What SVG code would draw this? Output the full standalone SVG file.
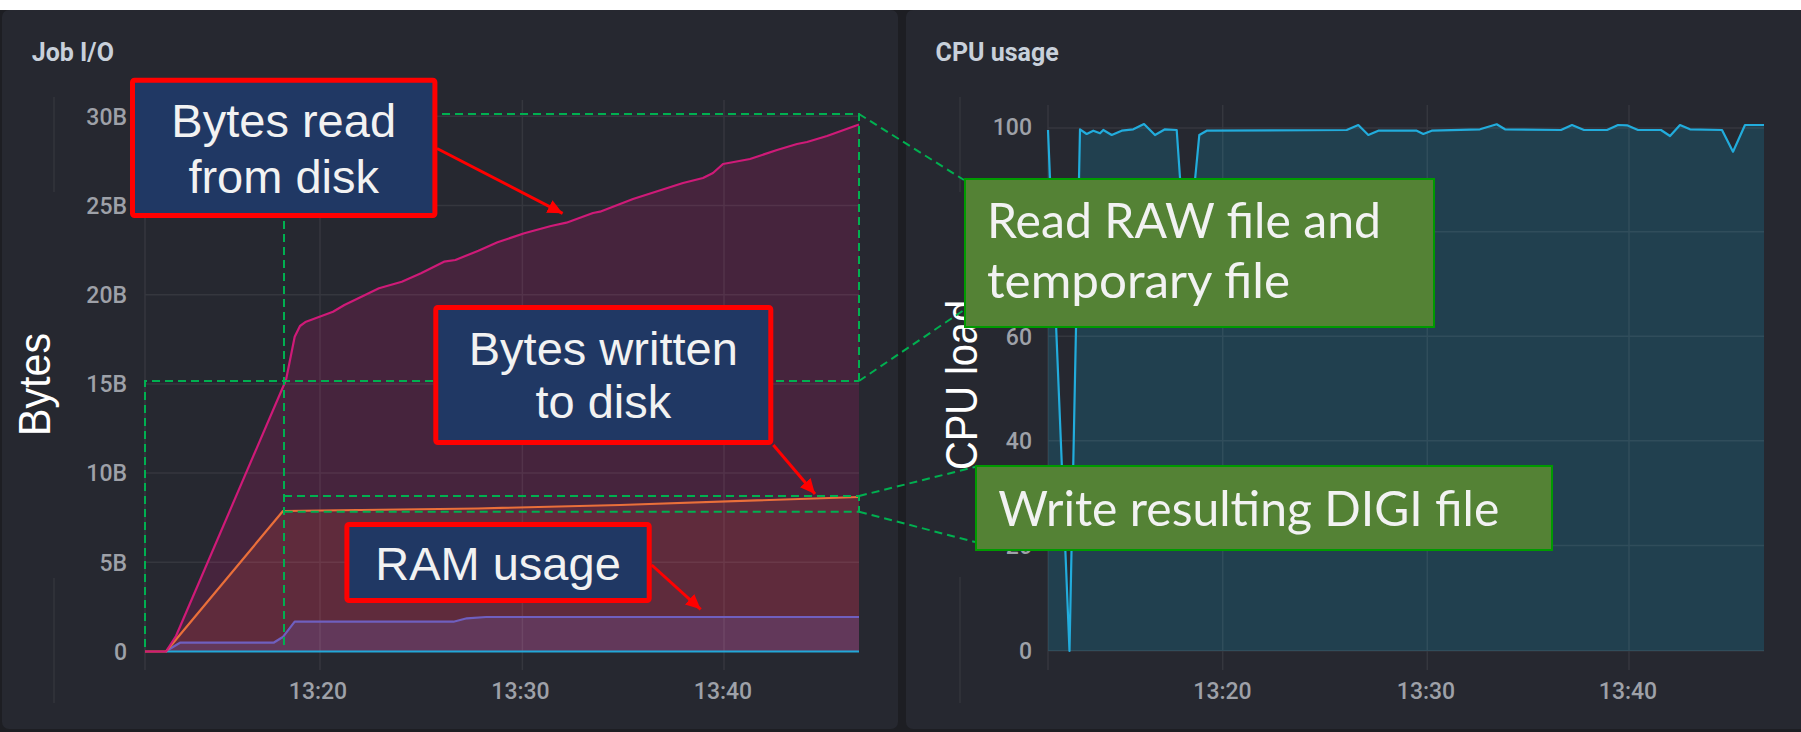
<svg xmlns="http://www.w3.org/2000/svg" width="1801" height="732" viewBox="0 0 1801 732">
  <defs>
    <style>
      .panel{fill:#262830}
      .title{font-family:Roboto,"Liberation Sans",sans-serif;font-weight:700;font-size:25px;fill:#c8d0da}
      .tick{font-family:Roboto,"Liberation Sans",sans-serif;font-weight:500;font-size:23px;fill:#9ea1a8}
      .tick.y{text-anchor:end}
      .tick.x{text-anchor:middle}
      .grid{stroke:#ffffff;stroke-opacity:0.07;stroke-width:1.5;fill:none}
      .guide{stroke:#ffffff;stroke-opacity:0.06;stroke-width:1.5;fill:none}
      .dash{stroke:#00b050;stroke-width:2;stroke-dasharray:8 5;fill:none}
      .callout rect{fill:#203864;stroke:#ff0000;stroke-width:5}
      .callout text{font-family:"Liberation Sans",Arial,sans-serif;font-size:47px;fill:#f2f2f2;text-anchor:middle}
      .note rect{fill:#548235;stroke:#009a00;stroke-width:2}
      .note text{font-family:Lato,"Noto Sans",sans-serif;font-size:49px;fill:#f2f2f2}
      .axis{font-family:"Liberation Sans",Arial,sans-serif;font-size:45px;fill:#ffffff;text-anchor:middle}
      .pointer{stroke:#ff0000;stroke-width:3;fill:none;marker-end:url(#head)}
      .series{fill:none;stroke-width:2.2;stroke-linejoin:round}
    </style>
    <marker id="head" markerUnits="userSpaceOnUse" markerWidth="16" markerHeight="14" refX="15" refY="7" orient="auto">
      <path d="M0,0 L15,7 L0,14 z" fill="#ff0000"/>
    </marker>
  </defs>

  <!-- page -->
  <rect x="0" y="0" width="1801" height="732" fill="#1d1e23"/>
  <rect x="0" y="0" width="1801" height="10" fill="#ffffff"/>

  <!-- panels -->
  <rect class="panel" x="2" y="10" width="896" height="719" rx="7"/>
  <rect class="panel" x="906" y="10" width="905" height="719" rx="7"/>
  <path class="guide" d="M54,97 V192 M54,578 V703 M960,97 V192 M960,577 V703"/>

  <text class="title" x="31.7" y="60.7">Job I/O</text>
  <text class="title" x="935.6" y="60.7">CPU usage</text>

  <!-- Job I/O chart -->
  <g id="io-chart">
    <polygon fill="#46243d" points="166,651.5 176,636 286,380 294.7,336.7 300,326 306,321.7 333,311.7 344.4,305 379,288.3 401.8,281.7 421,273.3 444,261.7 455.4,260 478.4,250.7 497.5,242.3 524.3,233.3 551,226 566.4,222.7 593,213 600,211.7 633,199 683,183 703,178 713,173 723,164 750,159 777,150 797,144 807,142 827,136 859,124.5 859,651.5"/>
    <polygon fill="#5f2b3c" points="166,651.5 283,511 478,508.5 620,505 859,497 859,651.5"/>
    <polygon fill="#62385a" points="168,650 180,642.7 273.6,642.7 283.2,636.7 294.7,621.7 453.5,621.7 466.9,618.3 486,617 859,617 859,651.5 168,651.5"/>
    <path class="grid" d="M145,100 V670 M320,100 V670 M522.4,100 V670 M724,100 V670 M145,116.3 H859 M145,205.5 H859 M145,294.7 H859 M145,383.9 H859 M145,473.1 H859 M145,562.3 H859"/>
    <polyline class="series" stroke="#22a8d8" stroke-width="2.5" points="166,651.5 859,651.5"/>
    <polyline class="series" stroke="#6f5fbf" points="168,650 180,642.7 273.6,642.7 283.2,636.7 294.7,621.7 453.5,621.7 466.9,618.3 486,617 859,617"/>
    <polyline class="series" stroke="#ea6f3a" points="145,651.5 166,651.5 283,511 478,508.5 620,505 859,497"/>
    <polyline class="series" stroke="#cf1a78" points="145,651.5 166,651.5 176,636 286,380 294.7,336.7 300,326 306,321.7 333,311.7 344.4,305 379,288.3 401.8,281.7 421,273.3 444,261.7 455.4,260 478.4,250.7 497.5,242.3 524.3,233.3 551,226 566.4,222.7 593,213 600,211.7 633,199 683,183 703,178 713,173 723,164 750,159 777,150 797,144 807,142 827,136 859,124.5"/>
    <text class="tick y" x="127" y="124.5">30B</text>
    <text class="tick y" x="127" y="213.7">25B</text>
    <text class="tick y" x="127" y="302.9">20B</text>
    <text class="tick y" x="127" y="392.1">15B</text>
    <text class="tick y" x="127" y="481.3">10B</text>
    <text class="tick y" x="127" y="570.5">5B</text>
    <text class="tick y" x="127" y="659.7">0</text>
    <text class="tick x" x="318" y="698.5">13:20</text>
    <text class="tick x" x="520.5" y="698.5">13:30</text>
    <text class="tick x" x="723" y="698.5">13:40</text>
    <text class="axis" transform="translate(50,384.5) rotate(-90)" textLength="103" lengthAdjust="spacingAndGlyphs">Bytes</text>
  </g>

  <!-- CPU usage chart -->
  <g id="cpu-chart">
    <polygon fill="#21404f" points="1048,130 1069.5,651 1080,129.3 1086.7,134 1093.3,130.7 1100,133.3 1103.3,130 1111.7,135 1121.7,130.7 1133.3,129.3 1144,124 1155,135 1165,129.3 1176.7,130 1186.4,270 1199.3,135 1206.7,130.7 1346.7,130 1358.3,125 1368.3,135 1378.3,130.7 1416.7,130.7 1423.3,134 1431.7,130.7 1480,129.3 1496.7,124.3 1505,129.3 1561,130 1572,125 1584,130 1607,130 1618,125 1627,125.3 1638,130 1661,130 1670,136 1680,125 1690,129.3 1722,130 1733,151.7 1745,125 1764,125 1764,651 1048,651"/>
    <path class="grid" d="M1048,105 V670 M1222.7,105 V670 M1427.3,105 V670 M1629,105 V670 M1048,128 H1764 M1048,231.7 H1764 M1048,336.3 H1764 M1048,440.8 H1764 M1048,545.5 H1764 M1048,650.7 H1764"/>
    <polyline class="series" stroke="#22acdc" points="1048,130 1069.5,651 1080,129.3 1086.7,134 1093.3,130.7 1100,133.3 1103.3,130 1111.7,135 1121.7,130.7 1133.3,129.3 1144,124 1155,135 1165,129.3 1176.7,130 1186.4,270 1199.3,135 1206.7,130.7 1346.7,130 1358.3,125 1368.3,135 1378.3,130.7 1416.7,130.7 1423.3,134 1431.7,130.7 1480,129.3 1496.7,124.3 1505,129.3 1561,130 1572,125 1584,130 1607,130 1618,125 1627,125.3 1638,130 1661,130 1670,136 1680,125 1690,129.3 1722,130 1733,151.7 1745,125 1764,125"/>
    <text class="tick y" x="1032" y="135">100</text>
    <text class="tick y" x="1032" y="239.9">80</text>
    <text class="tick y" x="1032" y="344.5">60</text>
    <text class="tick y" x="1032" y="449">40</text>
    <text class="tick y" x="1032" y="553.7">20</text>
    <text class="tick y" x="1032" y="658.9">0</text>
    <text class="tick x" x="1222.5" y="698.5">13:20</text>
    <text class="tick x" x="1426" y="698.5">13:30</text>
    <text class="tick x" x="1628" y="698.5">13:40</text>
    <text class="axis" transform="translate(976.5,385) rotate(-90)" textLength="170" lengthAdjust="spacingAndGlyphs">CPU load</text>
  </g>

  <!-- dashed phase outlines and their leaders -->
  <g id="connectors">
    <path class="dash" d="M145,647 V381 H859"/>
    <path class="dash" d="M284,645 V114 H859 V381"/>
    <path class="dash" d="M284,496 H859 V511.7 H284"/>
    <path class="dash" d="M859,114 L964,180 M859,381 L964,310 M859,496 L975,467 M859,511.7 L975,542"/>
    <path class="pointer" d="M437,148.5 L562.6,213.3"/>
    <path class="pointer" d="M773.3,445 L815,494"/>
    <path class="pointer" d="M651.7,565 L700.7,609.3"/>
  </g>

  <g id="callout-read" class="callout">
    <rect x="132.5" y="80.2" width="302.4" height="135.3" rx="2"/>
    <text x="283.7" y="137.3">Bytes read</text>
    <text x="283.7" y="192.7">from disk</text>
  </g>
  <g id="callout-write" class="callout">
    <rect x="435.8" y="307.5" width="335" height="135" rx="2"/>
    <text x="603.3" y="365">Bytes written</text>
    <text x="603.3" y="418.3">to disk</text>
  </g>
  <g id="callout-ram" class="callout">
    <rect x="346.9" y="524.5" width="302.3" height="76" rx="2"/>
    <text x="498" y="580">RAM usage</text>
  </g>

  <g id="note-read" class="note">
    <rect x="965" y="179" width="469" height="148"/>
    <text x="987" y="238.3" textLength="394" lengthAdjust="spacingAndGlyphs">Read RAW file and</text>
    <text x="987" y="298.3" textLength="303" lengthAdjust="spacingAndGlyphs">temporary file</text>
  </g>
  <g id="note-write" class="note">
    <rect x="976" y="466" width="576" height="84"/>
    <text x="998.3" y="525.7" textLength="501" lengthAdjust="spacingAndGlyphs">Write resulting DIGI file</text>
  </g>
</svg>
